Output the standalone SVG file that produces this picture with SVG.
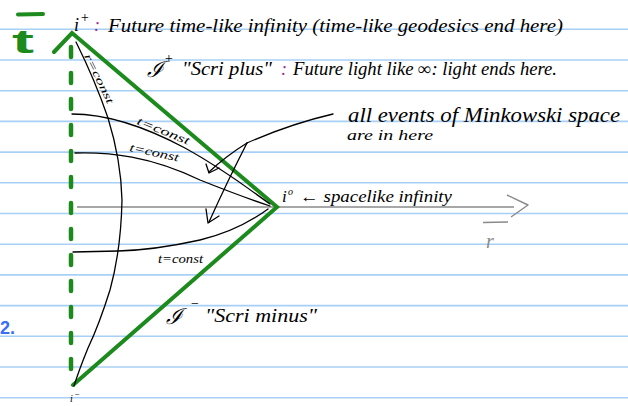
<svg xmlns="http://www.w3.org/2000/svg" width="628" height="406" viewBox="0 0 628 406">
<defs>
<style>
.rule{stroke:#a8cff5;stroke-width:1.6}
.hw{font-family:"Liberation Serif",serif;font-style:italic;fill:#000}
.sm{font-size:12px}
.g{stroke:#1c8a1c;fill:none;stroke-linecap:round}
.k{stroke:#000;fill:none;stroke-width:1.3;stroke-linecap:round;stroke-linejoin:round}
.pur{fill:#9a2a9a}
</style>
</defs>
<rect width="628" height="406" fill="#fff"/>
<g id="ruled-lines">
<line class="rule" x1="0" y1="29.3" x2="628" y2="29.3"/>
<line class="rule" x1="0" y1="60" x2="628" y2="60"/>
<line class="rule" x1="0" y1="90.7" x2="628" y2="90.7"/>
<line class="rule" x1="0" y1="121.4" x2="628" y2="121.4"/>
<line class="rule" x1="0" y1="152.1" x2="628" y2="152.1"/>
<line class="rule" x1="0" y1="182.8" x2="628" y2="182.8"/>
<line class="rule" x1="0" y1="213.5" x2="628" y2="213.5"/>
<line class="rule" x1="0" y1="244.2" x2="628" y2="244.2"/>
<line class="rule" x1="0" y1="274.9" x2="628" y2="274.9"/>
<line class="rule" x1="0" y1="305.6" x2="628" y2="305.6"/>
<line class="rule" x1="0" y1="336.3" x2="628" y2="336.3"/>
<line class="rule" x1="0" y1="367" x2="628" y2="367"/>
<line class="rule" x1="0" y1="397.7" x2="628" y2="397.7"/>
</g>
<g id="axis-t">
<line x1="18" y1="14.5" x2="43" y2="14" stroke="#1c8a1c" stroke-width="4" stroke-linecap="round"/>
<text x="12" y="53" font-family="Liberation Sans,sans-serif" font-weight="bold" font-size="34" fill="#1c8a1c" textLength="22" lengthAdjust="spacingAndGlyphs">t</text>
</g>
<g id="margin-number">
<text x="0" y="334" font-family="Liberation Sans,sans-serif" font-weight="bold" font-size="18" fill="#3a6ef5">2.</text>
</g>
<g id="axis-r">
<line x1="77" y1="207" x2="514" y2="207" stroke="#8a8a8a" stroke-width="1.6"/>
<polyline points="507,195 528,205 511,217" fill="none" stroke="#8a8a8a" stroke-width="1.4" stroke-linejoin="round"/>
<line x1="483" y1="222.5" x2="508" y2="222" stroke="#8a8a8a" stroke-width="1.4"/>
<text x="486" y="248" font-family="Liberation Serif,serif" font-style="italic" font-size="20" fill="#8a8a8a">r</text>
</g>
<g id="penrose-boundary">
<line class="g" x1="71" y1="47" x2="71" y2="385" stroke-width="4.5" stroke-dasharray="10 16"/>
<polyline class="g" points="54,52 72,33 277,207 73,385" stroke-width="4" stroke-linejoin="miter"/>
</g>
<g id="connectors">
<path class="k" d="M76,42 Q95,80 108,118 Q121,160 122,200 Q121,250 110,290 Q99,325 88,348 Q79,370 74,386"/>
<path class="k" d="M72,114 C105,114 140,124 185,148 C225,170 250,190 270,204"/>
<path class="k" d="M75,153 C110,152 150,156 200,180 C230,192 252,200 270,206"/>
<path class="k" d="M73,252 L118,251 Q155,250 200,240 Q238,231 268,209"/>
<path class="k" d="M333,114 Q290,124 247,143"/>
<path class="k" d="M247,143 Q226,156 209,172"/>
<polyline class="k" points="206,164 209,173 219,168"/>
<path class="k" d="M247,143 Q228,180 209,222"/>
<polyline class="k" points="206,209 208,223 219,216"/>
</g>
<g id="i-plus">
<text class="hw" x="74" y="31" font-size="18">i</text>
<text class="hw" x="80" y="22" font-size="14">+</text>
<text class="hw pur" x="94" y="31" font-size="18">:</text>
<text class="hw" x="108" y="32" font-size="18" textLength="455" lengthAdjust="spacingAndGlyphs">Future time-like infinity (time-like geodesics end here)</text>
</g>
<g id="scri-plus">
<text class="hw" x="147" y="77" font-size="22" font-family="DejaVu Serif,serif">ℐ</text>
<text class="hw" x="164" y="63" font-size="14">+</text>
<text class="hw" x="182" y="75" font-size="18" textLength="90" lengthAdjust="spacingAndGlyphs">"Scri plus"</text>
<text class="hw pur" x="281" y="75" font-size="18">:</text>
<text class="hw" x="293" y="75" font-size="18" textLength="264" lengthAdjust="spacingAndGlyphs">Future light like ∞: light ends here.</text>
</g>
<g id="minkowski-note">
<text class="hw" x="348" y="122" font-size="20" textLength="272" lengthAdjust="spacingAndGlyphs">all events of Minkowski space</text>
<text class="hw" x="347" y="140" font-size="14" textLength="86" lengthAdjust="spacingAndGlyphs">are in here</text>
</g>
<g id="i-zero">
<text class="hw" x="282" y="202" font-size="17">i</text>
<text class="hw" x="288" y="195" font-size="10">o</text>
<text class="hw" x="300" y="202" font-size="16" textLength="152" lengthAdjust="spacingAndGlyphs">← spacelike infinity</text>
</g>
<g id="scri-minus">
<text class="hw" x="166" y="324" font-size="22" font-family="DejaVu Serif,serif">ℐ</text>
<text class="hw" x="190" y="308" font-size="14">−</text>
<text class="hw" x="205" y="322" font-size="18" textLength="112" lengthAdjust="spacingAndGlyphs">"Scri minus"</text>
</g>
<g id="i-minus">
<text class="hw" x="70" y="402" font-size="10">i</text>
<text class="hw" x="74" y="397" font-size="9">−</text>
</g>
<g id="labels">
<text class="hw" font-size="11" transform="translate(84,56) rotate(64)" textLength="54" lengthAdjust="spacingAndGlyphs">r=const</text>
<text class="hw sm" transform="translate(136,124) rotate(22)" textLength="56" lengthAdjust="spacingAndGlyphs">t=const</text>
<text class="hw sm" transform="translate(129,151) rotate(12)" textLength="50" lengthAdjust="spacingAndGlyphs">t=const</text>
<text class="hw sm" x="158" y="263" textLength="45" lengthAdjust="spacingAndGlyphs">t=const</text>
</g>
</svg>
